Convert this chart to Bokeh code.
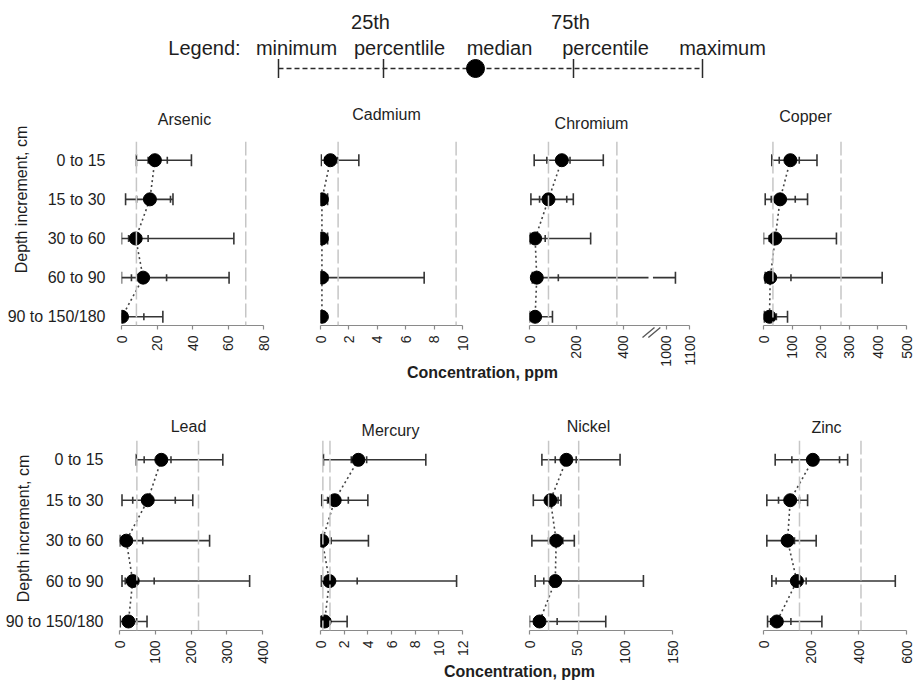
import math
from bokeh.plotting import figure
from bokeh.layouts import column, row
from bokeh.models import Range1d, FixedTicker, Span
from bokeh.core.properties import value
from bokeh.embed import file_html
from bokeh.resources import INLINE

# ---------------- data (ppm) ----------------
depths = ["0 to 15", "15 to 30", "30 to 60", "60 to 90", "90 to 150/180"]

arsenic_min = [8.4, 2.3, 0.0, 0.0, 0.0]
arsenic_q1 = [15.0, 8.5, 4.0, 5.6, 0.1]
arsenic_med = [18.8, 16.0, 8.0, 12.2, 0.3]
arsenic_q3 = [25.8, 27.6, 15.0, 25.4, 12.6]
arsenic_max = [39.4, 29.0, 63.3, 60.6, 23.3]
arsenic_ref = [8.4, 70.0]
arsenic_ticks = [0, 20, 40, 60, 80]

cadmium_min = [0.05, 0.02, 0.02, 0.02, 0.02]
cadmium_q1 = [0.3, 0.05, 0.05, 0.05, 0.05]
cadmium_med = [0.7, 0.1, 0.1, 0.1, 0.1]
cadmium_q3 = [1.2, 0.3, 0.3, 0.5, 0.2]
cadmium_max = [2.7, 0.5, 0.5, 7.3, 0.3]
cadmium_ref = [1.24, 9.55]
cadmium_ticks = [0, 2, 4, 6, 8, 10]

chromium_min = [20, 6, 2, 12, 0]
chromium_q1 = [74, 43, 10, 20, 8]
chromium_med = [138, 81, 24, 31, 24]
chromium_q3 = [173, 159, 67, 123, 40]
chromium_max = [315, 187, 261, 1040, 98]
chromium_ref = [81, 373]
chromium_ticks = [0, 200, 400, 1000, 1100]

copper_min = [29, 6, 0, 6, 2]
copper_q1 = [55, 27, 20, 12, 10]
copper_med = [94, 58, 41, 23.5, 21]
copper_q3 = [125, 111, 58, 96, 45]
copper_max = [187, 154, 255, 415, 84]
copper_ref = [33, 271]
copper_ticks = [0, 100, 200, 300, 400, 500]

lead_min = [47, 7, 1, 7, 2]
lead_q1 = [69, 37, 10, 16, 12]
lead_med = [117, 79, 19, 37, 25]
lead_q3 = [144, 156, 65, 97, 48]
lead_max = [289, 205, 252, 364, 77]
lead_ref = [48.6, 221]
lead_ticks = [0, 100, 200, 300, 400]

mercury_min = [0.25, 0.1, 0.0, 0.05, 0.0]
mercury_q1 = [2.6, 0.6, 0.05, 0.3, 0.1]
mercury_med = [3.2, 1.2, 0.15, 0.75, 0.35]
mercury_q3 = [3.9, 2.35, 0.9, 3.1, 0.8]
mercury_max = [8.9, 4.0, 4.05, 11.5, 2.25]
mercury_ref = [0.2, 0.8]
mercury_ticks = [0, 2, 4, 6, 8, 10, 12]

nickel_min = [13, 4, 2.5, 6, 0]
nickel_q1 = [27, 18, 20, 15, 5]
nickel_med = [38.7, 22, 28, 27, 10.5]
nickel_q3 = [49, 30, 35, 32, 29]
nickel_max = [95, 33, 47, 119.5, 80]
nickel_ref = [20, 51.6]
nickel_ticks = [0, 50, 100, 150]

zinc_min = [49, 14, 14, 35, 17]
zinc_q1 = [119, 63, 81, 53, 30]
zinc_med = [207, 112, 101, 140, 56]
zinc_q3 = [319, 151, 130, 179, 115]
zinc_max = [353, 185, 221, 553, 245]
zinc_ref = [151, 409]
zinc_ticks = [0, 200, 400, 600]

# chromium axis break (values between are skipped on the axis)
CR_BREAK_LO = 515
CR_BREAK_HI = 932

legend_words = ["Legend:", "minimum", "25th", "percentlile", "median", "75th", "percentile", "maximum"]
x_title = "Concentration, ppm"
y_title = "Depth increment, cm"

# ---------------- style / layout ----------------
FONT = "Liberation Sans"
TXT = "#1e1e1e"
WHISK = "#353535"
AXC = "#8a8a8a"
REFC = "#c6c6c6"
PAGE_W, PAGE_H = 914, 684
FRAME_H = 190
Y_LO, Y_HI = 0.777, 5.478
LEG_H = 92
ROW_H = 290
ROW1_TOP = LEG_H
ROW2_TOP = 392


def cr_fwd(v):
    return v if v <= CR_BREAK_LO else v - (CR_BREAK_HI - CR_BREAK_LO)


def flip(y):
    return PAGE_H - y


def panel(name, mins, q1s, meds, q3s, maxs, refs, ticks, g, ylab=False, fwd=None, gap=None):
    f = fwd or (lambda v: v)
    n = len(depths)
    ys = [n - i for i in range(n)]
    p = figure(width=g["w"], height=ROW_H, x_range=Range1d(0, f(ticks[-1])),
               y_range=Range1d(Y_LO, Y_HI),
               min_border_left=g["l"], min_border_right=g["w"] - g["l"] - g["fw"],
               min_border_top=g["t"], min_border_bottom=ROW_H - g["t"] - FRAME_H,
               output_backend="svg", toolbar_location=None)
    p.outline_line_color = None
    p.background_fill_alpha = 0
    p.border_fill_alpha = 0
    p.xgrid.visible = False
    p.ygrid.visible = False

    xa = p.xaxis[0]
    xa.ticker = FixedTicker(ticks=[f(t) for t in ticks])
    if fwd is not None:
        xa.major_label_overrides = {f(t): str(t) for t in ticks}
    xa.major_label_orientation = math.pi / 2
    xa.major_label_text_font = FONT
    xa.major_label_text_font_size = "14px"
    xa.major_label_text_color = TXT
    xa.major_label_standoff = 6
    xa.axis_line_color = AXC
    xa.axis_line_width = 1.2
    xa.major_tick_line_color = AXC
    xa.major_tick_line_width = 1.2
    xa.major_tick_out = 4
    xa.major_tick_in = 0
    xa.minor_tick_line_color = None

    ya = p.yaxis[0]
    if ylab:
        ya.ticker = FixedTicker(ticks=ys)
        ya.major_label_overrides = {ys[i]: depths[i] for i in range(n)}
        ya.axis_line_color = None
        ya.major_tick_line_color = None
        ya.minor_tick_line_color = None
        ya.major_label_text_font = FONT
        ya.major_label_text_font_size = "16px"
        ya.major_label_text_color = TXT
        ya.major_label_standoff = 10
    else:
        ya.visible = False

    for r in refs:
        p.add_layout(Span(location=f(r), dimension="height", line_color=REFC,
                          line_width=1.5, line_dash="14 4"))

    x0, x1, yy = [], [], []
    for i in range(n):
        lo, hi = f(mins[i]), f(maxs[i])
        if gap is not None and maxs[i] > CR_BREAK_LO:
            x0 += [lo, gap[1]]
            x1 += [gap[0], hi]
            yy += [ys[i], ys[i]]
        else:
            x0.append(lo)
            x1.append(hi)
            yy.append(ys[i])
    p.segment(x0=x0, y0=yy, x1=x1, y1=yy, line_color=WHISK, line_width=1.6)
    p.scatter(x=[f(v) for v in mins + maxs], y=ys + ys, marker="dash", angle=math.pi / 2,
              size=12, line_color=WHISK, line_width=1.6)
    p.scatter(x=[f(v) for v in q1s + q3s], y=ys + ys, marker="dash", angle=math.pi / 2,
              size=7, line_color=WHISK, line_width=1.6)
    p.line(x=[f(v) for v in meds], y=ys, line_color="#444444", line_width=1.6, line_dash="2 3")
    p.scatter(x=[f(v) for v in meds], y=ys, marker="circle", size=13,
              fill_color="black", line_color="black")
    return p


def strip(top, height, margin_top=0):
    t = figure(width=PAGE_W, height=height, x_range=Range1d(0, PAGE_W),
               y_range=Range1d(flip(top + height), flip(top)),
               min_border=0, output_backend="svg", toolbar_location=None)
    t.outline_line_color = None
    t.background_fill_alpha = 0
    t.border_fill_alpha = 0
    t.axis.visible = False
    t.grid.visible = False
    if margin_top:
        t.margin = (margin_top, 0, 0, 0)
    return t


def texts(fig, xs, ys, words, size, style="normal", angle=0.0, baseline="middle"):
    fig.text(x=xs, y=[flip(y) for y in ys], text=words, angle=angle,
             text_align="center", text_baseline=baseline,
             text_font=value(FONT), text_font_size=size, text_font_style=style, text_color=TXT)


# ---------------- legend ----------------
lg = strip(0, LEG_H)
texts(lg, [204, 296, 370, 399, 499, 570, 605, 722], [47, 47, 21, 47, 47, 21, 47, 47],
      legend_words, "20px", baseline="alphabetic")
leg_ticks = [278, 383, 573, 702]
leg_y = flip(68)
lg.segment(x0=[leg_ticks[0]], y0=[leg_y], x1=[leg_ticks[-1]], y1=[leg_y], line_color="#2a2a2a",
           line_width=1.5, line_dash="5 3")
lg.scatter(x=leg_ticks, y=[leg_y] * 4, marker="dash", angle=math.pi / 2, size=19,
           line_color="#2a2a2a", line_width=1.5)
lg.scatter(x=[475], y=[leg_y], marker="circle", size=18, fill_color="black", line_color="black")

# ---------------- panels ----------------
g_as = dict(w=300, l=121, fw=142, t=46)
g_cd = dict(w=205, l=20, fw=142, t=46)
g_cr = dict(w=230, l=24, fw=160, t=49)
g_cu = dict(w=179, l=28, fw=143, t=43)
g_pb = dict(w=300, l=119, fw=143, t=48)
g_hg = dict(w=205, l=20, fw=142, t=48)
g_ni = dict(w=230, l=24, fw=143, t=48)
g_zn = dict(w=179, l=28, fw=143, t=48)

CR_GAP = (508, 527)
p_as = panel("Arsenic", arsenic_min, arsenic_q1, arsenic_med, arsenic_q3, arsenic_max, arsenic_ref,
             arsenic_ticks, g_as, ylab=True)
p_cd = panel("Cadmium", cadmium_min, cadmium_q1, cadmium_med, cadmium_q3, cadmium_max, cadmium_ref,
             cadmium_ticks, g_cd)
p_cr = panel("Chromium", chromium_min, chromium_q1, chromium_med, chromium_q3, chromium_max,
             chromium_ref, chromium_ticks, g_cr, fwd=cr_fwd, gap=CR_GAP)
p_cu = panel("Copper", copper_min, copper_q1, copper_med, copper_q3, copper_max, copper_ref,
             copper_ticks, g_cu)
p_pb = panel("Lead", lead_min, lead_q1, lead_med, lead_q3, lead_max, lead_ref, lead_ticks, g_pb,
             ylab=True)
p_hg = panel("Mercury", mercury_min, mercury_q1, mercury_med, mercury_q3, mercury_max, mercury_ref,
             mercury_ticks, g_hg)
p_ni = panel("Nickel", nickel_min, nickel_q1, nickel_med, nickel_q3, nickel_max, nickel_ref,
             nickel_ticks, g_ni)
p_zn = panel("Zinc", zinc_min, zinc_q1, zinc_med, zinc_q3, zinc_max, zinc_ref, zinc_ticks, g_zn)

# ---------------- overlays: panel titles, axis titles, axis-break mark ----------------
ov1 = strip(ROW1_TOP, ROW2_TOP - ROW1_TOP, margin_top=-ROW_H)
texts(ov1, [184, 386, 591, 805], [119, 114, 123, 116], ["Arsenic", "Cadmium", "Chromium", "Copper"], "16px")
texts(ov1, [21], [199], [y_title], "16px", angle=math.pi / 2)
texts(ov1, [482], [372], [x_title], "16px", style="bold")
# break mark on the chromium axis
cr_left = 300 + 205 + g_cr["l"]
cr_scale = g_cr["fw"] / cr_fwd(chromium_ticks[-1])
cr_axis_y = ROW1_TOP + g_cr["t"] + FRAME_H
bx = [cr_left + cr_scale * u for u in (508, 533)]
ov1.segment(x0=[bx[0] - 1], y0=[flip(cr_axis_y)], x1=[bx[1] + 1], y1=[flip(cr_axis_y)],
            line_color="white", line_width=3)
ov1.segment(x0=[b - 6 for b in bx], y0=[flip(cr_axis_y + 6)] * 2, x1=[b + 6 for b in bx],
            y1=[flip(cr_axis_y - 4)] * 2, line_color="#555555", line_width=1.3)

ov2 = strip(ROW2_TOP, ROW_H, margin_top=-ROW_H)
texts(ov2, [188, 390, 588, 826], [426, 430, 426, 427], ["Lead", "Mercury", "Nickel", "Zinc"], "16px")
texts(ov2, [23], [528], [y_title], "16px", angle=math.pi / 2)
texts(ov2, [519], [671], [x_title], "16px", style="bold")

layout = column(lg, row(p_as, p_cd, p_cr, p_cu), ov1, row(p_pb, p_hg, p_ni, p_zn), ov2)
open("out.html", "w").write(file_html(layout, INLINE))
